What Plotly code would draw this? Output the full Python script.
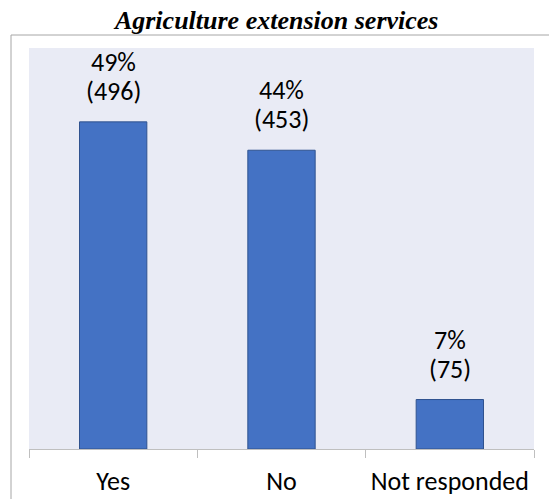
import plotly.graph_objects as go

categories = ["Yes", "No", "Not responded"]
counts = [496, 453, 75]
percent_labels = ["49%", "44%", "7%"]

bar_color = "#4472C4"
bar_edge = "#2F528F"
plot_bg = "#E9EBF5"
frame_color = "#A6A6A6"
label_font = "Carlito, Lato, sans-serif"
label_size = 26

fig = go.Figure(
    go.Bar(
        x=categories,
        y=counts,
        width=0.40,
        marker=dict(color=bar_color, line=dict(color=bar_edge, width=1)),
        hoverinfo="skip",
    )
)

# value labels: percentage on top, count in parentheses below it
annotations = []
for cat, n, pct in zip(categories, counts, percent_labels):
    annotations.append(dict(x=cat, y=n, xref="x", yref="y", text=pct,
                            showarrow=False, yanchor="middle", yshift=60,
                            font=dict(family=label_font, size=label_size, color="#000000")))
    annotations.append(dict(x=cat, y=n, xref="x", yref="y", text=f"({n})",
                            showarrow=False, yanchor="middle", yshift=31,
                            font=dict(family=label_font, size=label_size, color="#000000")))

fig.update_layout(
    width=549,
    height=499,
    margin=dict(l=29, r=15, t=48, b=50),
    paper_bgcolor="#FFFFFF",
    plot_bgcolor=plot_bg,
    showlegend=False,
    bargap=0.6,
    title=dict(
        text="<b><i>Agriculture extension services</i></b>",
        x=0.504, xanchor="center",
        y=1 - 20 / 499, yanchor="middle",
        font=dict(family="Liberation Serif, Times New Roman, serif", size=26, color="#000000"),
    ),
    xaxis=dict(
        automargin=False,
        showline=True, linecolor="#BFBFBF", linewidth=1,
        ticks="outside", tickson="boundaries", ticklen=8, tickcolor="#BFBFBF",
        ticklabelstandoff=9,
        tickfont=dict(family=label_font, size=label_size, color="#000000"),
        showgrid=False, range=[-0.5, 2.5],
    ),
    yaxis=dict(
        automargin=False,
        range=[0, 608], visible=False, showgrid=False, zeroline=False,
    ),
    annotations=annotations,
    shapes=[
        # outer chart frame: top edge and left edge
        dict(type="line", xref="paper", yref="paper",
             x0=(11 - 29) / 505, x1=(549 - 29) / 505,
             y0=(449 - 35) / 401, y1=(449 - 35) / 401,
             line=dict(color=frame_color, width=1)),
        dict(type="line", xref="paper", yref="paper",
             x0=(11 - 29) / 505, x1=(11 - 29) / 505,
             y0=(449 - 35) / 401, y1=(449 - 500) / 401,
             line=dict(color=frame_color, width=1)),
    ],
)

fig.write_html("out.html")
